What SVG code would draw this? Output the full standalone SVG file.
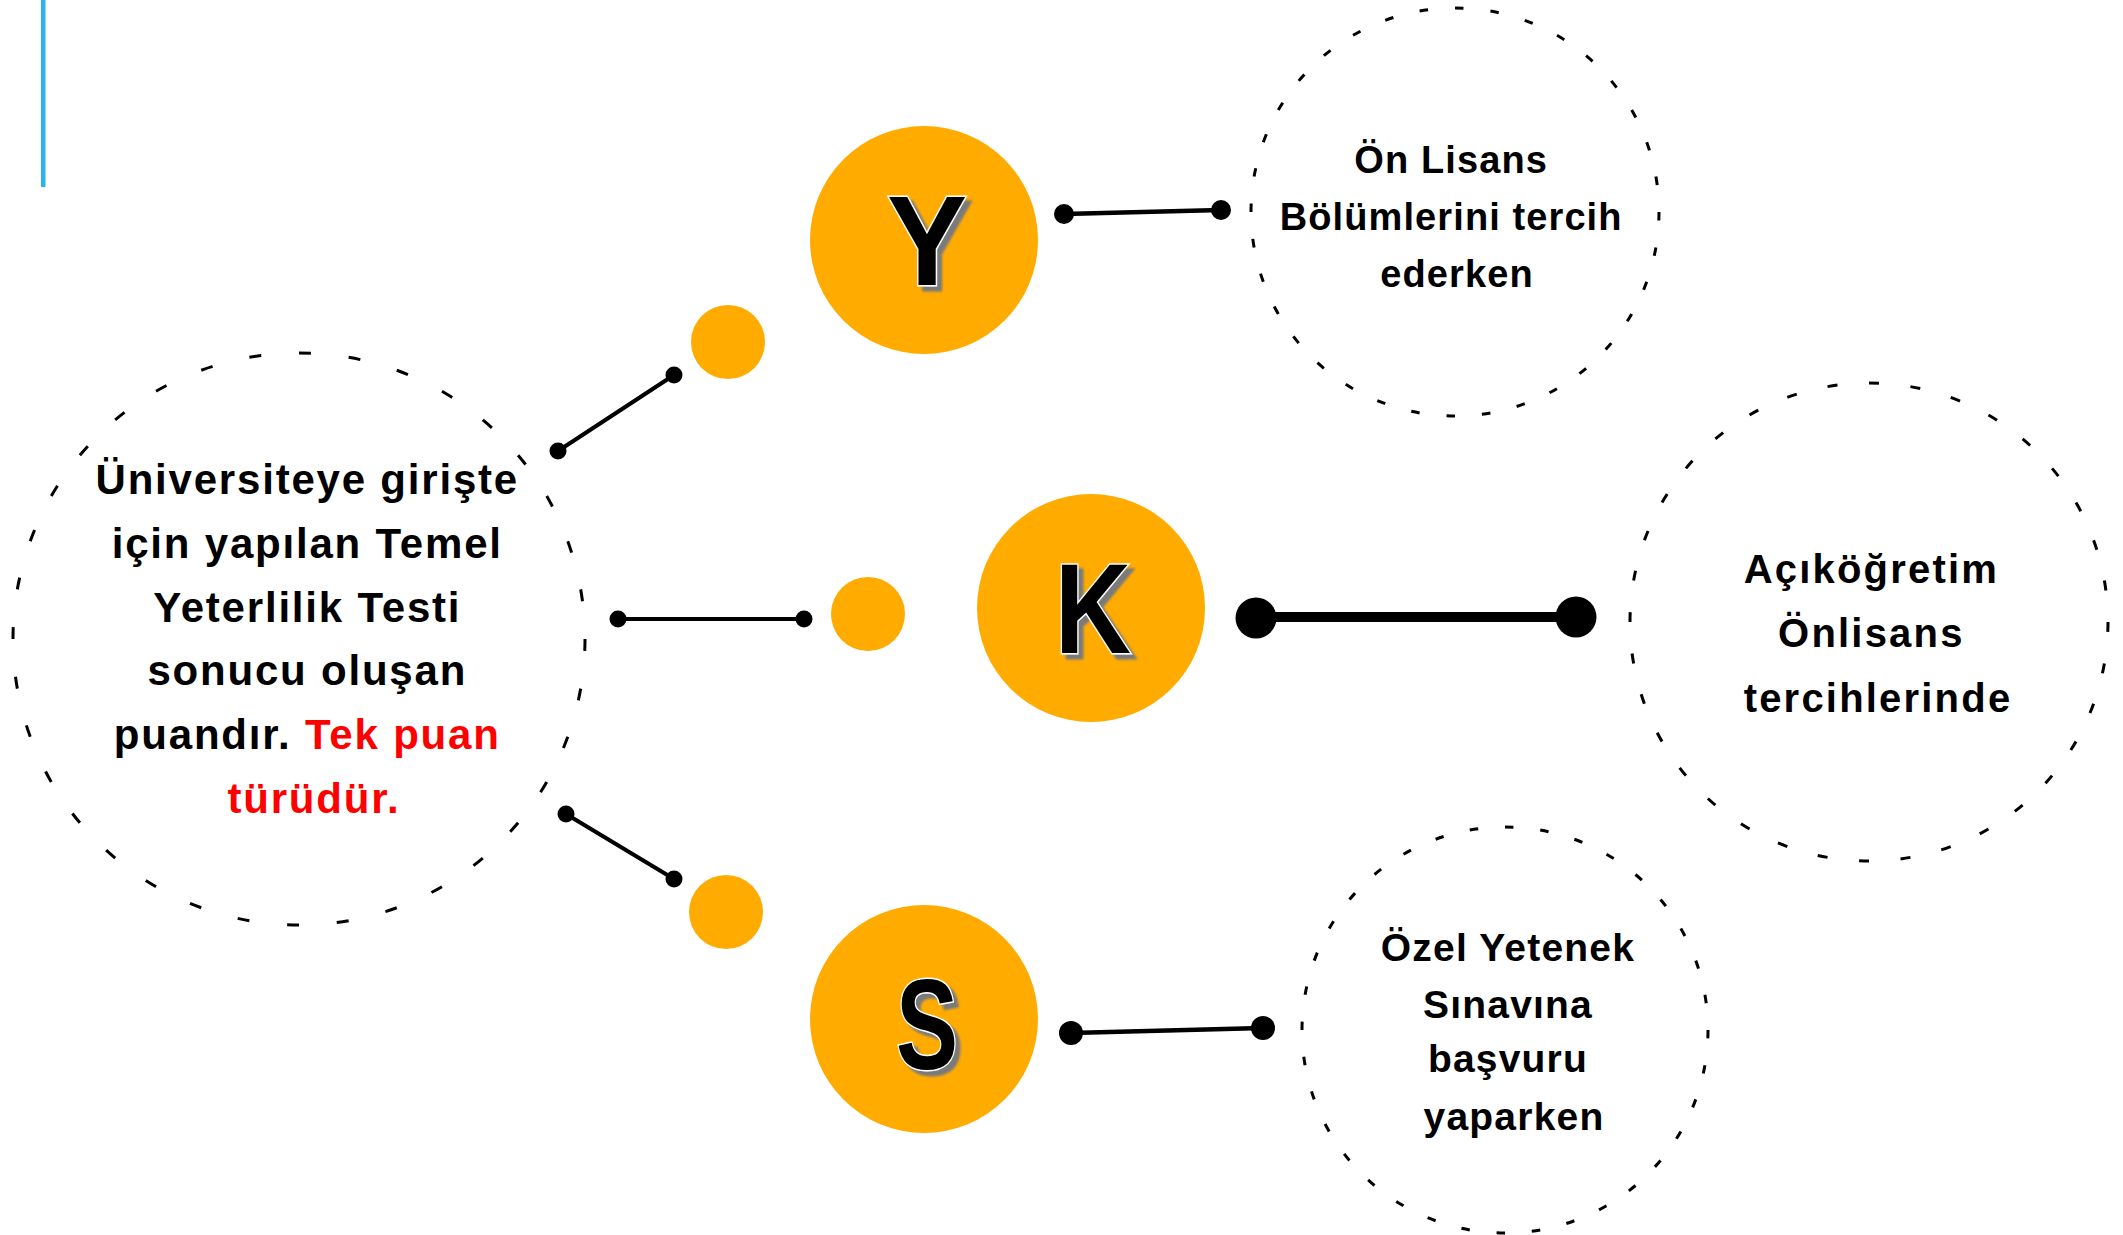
<svg xmlns="http://www.w3.org/2000/svg" width="2123" height="1235" viewBox="0 0 2123 1235">
<defs>
<filter id="shadow" x="-30%" y="-30%" width="160%" height="160%">
  <feDropShadow dx="5" dy="5" stdDeviation="0.8" flood-color="#7A7A7A" flood-opacity="1"/>
</filter>
</defs>
<style>
.dash{fill:none;stroke:#000;stroke-width:3;stroke-dasharray:0.24 0.76}
.orange{fill:#FFAB00}
.txt{font-family:"Liberation Sans",Arial,sans-serif;font-weight:bold;fill:#000;text-anchor:middle}
.red{fill:#FF0000}
.big{font-family:"Liberation Sans",Arial,sans-serif;font-weight:bold;font-size:128px;text-anchor:middle;fill:#000;stroke:#fff;stroke-width:3;paint-order:stroke;filter:url(#shadow)}
.conn line{stroke:#000;stroke-linecap:round}
.conn circle{fill:#000}
</style>
<rect width="2123" height="1235" fill="#fff"/>
<rect x="41" y="0" width="4.5" height="187" fill="#29B5EA"/>

<g id="node-main">
  <circle class="dash" cx="299" cy="639" r="286" pathLength="36"/>
  <text class="txt" font-size="42" letter-spacing="1.8">
    <tspan x="314" y="494">Üniversiteye girişte</tspan>
    <tspan x="314" y="558">için yapılan Temel</tspan>
    <tspan x="314" y="622">Yeterlilik Testi</tspan>
    <tspan x="314" y="685">sonucu oluşan</tspan>
    <tspan x="314" y="749">puandır. <tspan class="red">Tek puan</tspan></tspan>
    <tspan x="314" y="813" class="red">türüdür.</tspan>
  </text>
</g>

<g id="node-dot1"><circle class="orange" cx="728" cy="342" r="37"/></g>
<g id="node-dot2"><circle class="orange" cx="868" cy="614" r="37"/></g>
<g id="node-dot3"><circle class="orange" cx="726" cy="912" r="37"/></g>

<g id="node-Y">
  <circle class="orange" cx="924" cy="240" r="114"/>
  <text class="big" x="927" y="285" textLength="80" lengthAdjust="spacingAndGlyphs">Y</text>
</g>
<g id="node-K">
  <circle class="orange" cx="1091" cy="608" r="114"/>
  <text class="big" x="1093" y="653" textLength="76" lengthAdjust="spacingAndGlyphs">K</text>
</g>
<g id="node-S">
  <circle class="orange" cx="924" cy="1019" r="114"/>
  <text class="big" x="927" y="1069" textLength="62" lengthAdjust="spacingAndGlyphs">S</text>
</g>

<g id="node-onlisans">
  <circle class="dash" cx="1455" cy="212" r="204" pathLength="36"/>
  <text class="txt" font-size="38" letter-spacing="1.1">
    <tspan x="1457" y="173">Ön Lisans</tspan>
    <tspan x="1457" y="230">Bölümlerini tercih</tspan>
    <tspan x="1457" y="287">ederken</tspan>
  </text>
</g>
<g id="node-acik">
  <circle class="dash" cx="1869" cy="622" r="239" pathLength="36"/>
  <text class="txt" font-size="40" letter-spacing="2.2">
    <tspan x="1878" y="583">Açıköğretim</tspan>
    <tspan x="1878" y="647">Önlisans</tspan>
    <tspan x="1878" y="712">tercihlerinde</tspan>
  </text>
</g>
<g id="node-ozel">
  <circle class="dash" cx="1505" cy="1030" r="203" pathLength="36"/>
  <text class="txt" font-size="39" letter-spacing="1.2">
    <tspan x="1514" y="961">Özel Yetenek</tspan>
    <tspan x="1514" y="1018">Sınavına</tspan>
    <tspan x="1514" y="1072">başvuru</tspan>
    <tspan x="1514" y="1130">yaparken</tspan>
  </text>
</g>

<g id="connectors" class="conn">
  <line x1="558" y1="451" x2="674" y2="375" stroke-width="4"/>
  <circle cx="558" cy="451" r="8.5"/><circle cx="674" cy="375" r="8.5"/>
  <line x1="618" y1="619" x2="804" y2="619" stroke-width="4"/>
  <circle cx="618" cy="619" r="8.5"/><circle cx="804" cy="619" r="8.5"/>
  <line x1="566" y1="814" x2="674" y2="879" stroke-width="4"/>
  <circle cx="566" cy="814" r="8.5"/><circle cx="674" cy="879" r="8.5"/>
  <line x1="1064" y1="214" x2="1221" y2="210" stroke-width="4.5"/>
  <circle cx="1064" cy="214" r="10"/><circle cx="1221" cy="210" r="10"/>
  <line x1="1256" y1="617" x2="1576" y2="617" stroke-width="10"/>
  <circle cx="1256" cy="618" r="20.5"/><circle cx="1576" cy="617" r="20.5"/>
  <line x1="1071" y1="1033" x2="1263" y2="1028" stroke-width="4.5"/>
  <circle cx="1071" cy="1033" r="12"/><circle cx="1263" cy="1028" r="12"/>
</g>
</svg>
